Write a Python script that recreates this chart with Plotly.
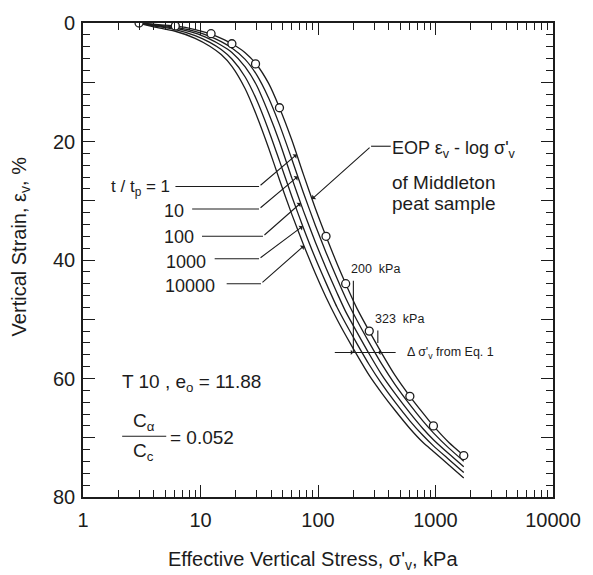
import math
import plotly.graph_objects as go

# ---------------- data ----------------
stress_grid = [3, 4, 6, 9, 12, 15, 18.5, 24, 30, 38, 47, 60, 75, 95, 117, 145,
               172, 215, 273, 350, 450, 605, 780, 960, 1300, 1740]
strain_tp1 = [0, 0.2, 0.5, 1.1, 1.8, 2.6, 3.5, 5.0, 7.0, 10.2, 14.3, 19.8, 25.5, 31.3,
              36.0, 40.6, 44.0, 48.2, 52.0, 55.8, 59.4, 63.0, 65.8, 68.0, 70.8, 73.0]
strain_tp10 = [0, 0.29, 0.69, 1.41, 2.25, 3.14, 4.23, 6.13, 8.71, 12.65, 17.15, 23.03,
               28.6, 34.17, 38.72, 43.09, 46.41, 50.21, 53.94, 57.62, 60.93, 64.4,
               67.14, 69.17, 71.75, 73.95]
strain_tp100 = [0, 0.39, 0.88, 1.72, 2.73, 3.75, 4.96, 7.40, 10.51, 15.23, 20.03, 26.23,
                31.67, 36.99, 41.37, 45.53, 48.71, 52.21, 55.87, 59.43, 62.47, 65.8,
                68.43, 70.33, 72.71, 74.9]
strain_tp1000 = [0, 0.48, 1.06, 2.13, 3.27, 4.48, 6.07, 9.11, 12.96, 18.09, 23.27, 29.33,
                 34.54, 39.71, 43.86, 47.94, 50.72, 54.15, 57.68, 60.96, 63.92, 67.14,
                 69.59, 71.37, 73.66, 75.85]
strain_tp10000 = [0, 0.65, 1.35, 2.58, 3.92, 5.33, 7.31, 11.09, 15.6, 21.09, 26.46, 32.34,
                  37.33, 42.28, 46.28, 49.99, 52.7, 56.06, 59.48, 62.5, 65.32, 68.43,
                  70.76, 72.32, 74.61, 76.8]

eop_points_stress = [3.0, 6.1, 12.3, 18.5, 29.4, 47, 117, 172, 273, 605, 960, 1740]
eop_points_strain = [0, 0.5, 1.8, 3.5, 6.9, 14.3, 36, 44, 52, 63, 68, 73]

tp_labels = ["t / t<sub>p</sub> = 1", "10", "100", "1000", "10000"]
x_tick_vals = [1, 10, 100, 1000, 10000]
x_tick_text = ["1", "10", "100", "1000", "10000"]
y_tick_vals = [0, 10, 20, 30, 40, 50, 60, 70, 80]
y_tick_text = ["0", "", "20", "", "40", "", "60", "", "80"]

# leader lines (start stress, bend stress, end stress, label strain, end strain)
leaders = [
    (6.12, 31.5, 65.9, 27.6, 22.2),
    (8.49, 31.5, 67.3, 31.4, 25.9),
    (10.3, 34.0, 71.2, 36.0, 30.4),
    (13.2, 31.5, 74.0, 39.8, 34.3),
    (16.7, 32.7, 76.0, 44.0, 37.6),
]
eop_leader = (416, 283, 89, 20.8, 29.7)

INK = "#1c1c1c"
FONT = "Liberation Sans, Arial, sans-serif"

# plot area in pixels
L, R, T, B = 83, 30, 21, 78
W, H = 593, 575
PW, PH = W - L - R, H - T - B


def px(x):
    return (x - L) / PW


def py(y):
    return (H - B - y) / PH


fig = go.Figure()

for s in [strain_tp1, strain_tp10, strain_tp100, strain_tp1000, strain_tp10000]:
    fig.add_trace(go.Scatter(x=stress_grid, y=s, mode="lines",
                             line=dict(color=INK, width=1.3, shape="spline", smoothing=0.6),
                             hoverinfo="skip", showlegend=False))

fig.add_trace(go.Scatter(x=eop_points_stress, y=eop_points_strain, mode="markers",
                         marker=dict(symbol="circle", size=8, color="white",
                                     line=dict(color=INK, width=1.3)),
                         hoverinfo="skip", showlegend=False))

annotations = []

# leaders for t/tp labels
for (s0, s1, s2, e0, e2) in leaders:
    fig.add_trace(go.Scatter(x=[s0, s1], y=[e0, e0], mode="lines",
                             line=dict(color=INK, width=1.1), hoverinfo="skip",
                             showlegend=False))
    annotations.append(dict(x=math.log10(s2), y=e2, xref="x", yref="y",
                            ax=math.log10(s1), ay=e0, axref="x", ayref="y",
                            showarrow=True, arrowhead=1, arrowsize=0.9,
                            arrowwidth=1.1, arrowcolor=INK, text=""))

# EOP leader
s0, s1, s2, e0, e2 = eop_leader
fig.add_trace(go.Scatter(x=[s0, s1], y=[e0, e0], mode="lines",
                         line=dict(color=INK, width=1.1), hoverinfo="skip",
                         showlegend=False))
annotations.append(dict(x=math.log10(s2), y=e2, xref="x", yref="y",
                        ax=math.log10(s1), ay=e0, axref="x", ayref="y",
                        showarrow=True, arrowhead=1, arrowsize=0.9,
                        arrowwidth=1.1, arrowcolor=INK, text=""))

# 200 / 323 kPa markers and delta-sigma line
fig.add_trace(go.Scatter(x=[200, 200], y=[43.5, 55.6], mode="lines",
                         line=dict(color=INK, width=1.1), hoverinfo="skip", showlegend=False))
fig.add_trace(go.Scatter(x=[323, 323], y=[51.9, 54.0], mode="lines",
                         line=dict(color=INK, width=1.1), hoverinfo="skip", showlegend=False))
fig.add_trace(go.Scatter(x=[139, 458], y=[55.6, 55.6], mode="lines",
                         line=dict(color=INK, width=1.1), hoverinfo="skip", showlegend=False))
annotations.append(dict(x=math.log10(200), y=55.6, xref="x", yref="y", ax=-18, ay=0,
                        showarrow=True, arrowhead=1, arrowsize=0.8, arrowwidth=1.1,
                        arrowcolor=INK, text=""))
annotations.append(dict(x=math.log10(323), y=55.6, xref="x", yref="y", ax=16, ay=0,
                        showarrow=True, arrowhead=1, arrowsize=0.8, arrowwidth=1.1,
                        arrowcolor=INK, text=""))


def txt(text, x, y, size=17, xanchor="left", angle=0):
    annotations.append(dict(text=text, x=px(x), y=py(y), xref="paper", yref="paper",
                            xanchor=xanchor, yanchor="middle", showarrow=False,
                            textangle=angle, font=dict(family=FONT, size=size, color=INK)))


txt(tp_labels[0], 174, 187, size=17, xanchor="right")
txt(tp_labels[1], 164, 210, size=18)
txt(tp_labels[2], 164, 236, size=18)
txt(tp_labels[3], 166, 261, size=18)
txt(tp_labels[4], 165, 285, size=18)

txt("EOP ε<sub>v</sub> - log σ'<sub>v</sub>", 397, 148, size=18)
txt("of Middleton", 397, 181, size=19)
txt("peat sample", 397, 202, size=19)

txt("200  kPa", 355, 268, size=12.5)
txt("323  kPa", 379, 318, size=12.5)
txt("Δ σ'<sub>v</sub> from Eq. 1", 412, 352, size=12.5)

txt("T 10 , e<sub>o</sub> = 11.88", 121, 383, size=19)
txt("C<sub>α</sub>", 145, 422, size=19, xanchor="center")
txt("C<sub>c</sub>", 145, 452, size=19, xanchor="center")
txt("= 0.052", 170, 437, size=19)

txt("Effective Vertical Stress, σ'<sub>v</sub>, kPa", 318, 561, size=20, xanchor="center")
txt("Vertical Strain, ε<sub>v</sub>, %", 19, 245, size=20, xanchor="center", angle=-90)

shapes = [dict(type="line", xref="paper", yref="paper", x0=px(123), x1=px(168),
               y0=py(436), y1=py(436), line=dict(color=INK, width=1.2))]

x_minor = [m * 10 ** d for d in range(4) for m in range(2, 10)]
y_minor = [v for v in range(0, 81, 2) if v % 10 != 0]

fig.update_layout(
    width=W, height=H, margin=dict(l=L, r=R, t=T, b=B),
    paper_bgcolor="white", plot_bgcolor="white",
    font=dict(family=FONT, color=INK),
    annotations=annotations, shapes=shapes,
    xaxis=dict(type="log", range=[0, 4], tickvals=x_tick_vals, ticktext=x_tick_text,
               ticks="inside", ticklen=12, tickwidth=1.2, tickcolor=INK,
               minor=dict(ticks="inside", ticklen=7, tickwidth=1, tickcolor=INK,
                          tickvals=x_minor, showgrid=False),
               showline=True, linewidth=1.6, linecolor=INK, mirror="ticks",
               showgrid=False, zeroline=False, ticklabelstandoff=4,
               tickfont=dict(family=FONT, size=20, color=INK)),
    yaxis=dict(range=[80, 0], tickvals=y_tick_vals, ticktext=y_tick_text,
               ticks="inside", ticklen=12, tickwidth=1.2, tickcolor=INK,
               minor=dict(ticks="inside", ticklen=7, tickwidth=1, tickcolor=INK,
                          tickvals=y_minor, showgrid=False),
               showline=True, linewidth=1.6, linecolor=INK, mirror="ticks",
               showgrid=False, zeroline=False, ticklabelstandoff=2,
               tickfont=dict(family=FONT, size=20, color=INK)),
)

fig.write_html("out.html")
